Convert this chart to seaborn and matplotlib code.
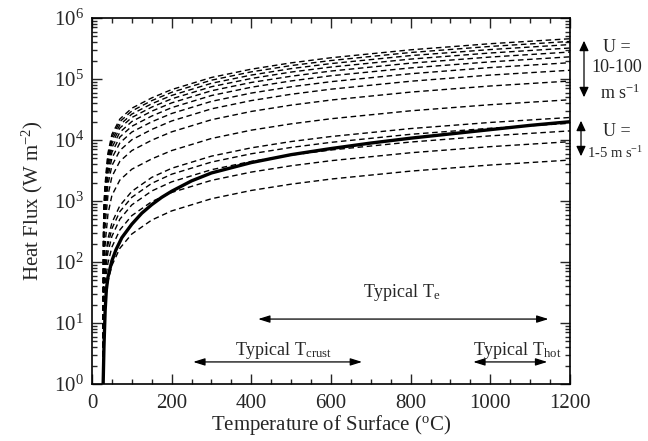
import numpy as np
import pandas as pd
import matplotlib
matplotlib.use("Agg")
import matplotlib.pyplot as plt
import seaborn as sns
from matplotlib.ticker import MultipleLocator, LogLocator, LogFormatterMathtext, NullFormatter

# ---------------- data ----------------
# temperature grid for the dashed (wind-speed) curves, deg C
T_dashed = [28, 29, 30, 32, 35, 40, 50, 70, 100, 150, 200, 300, 400, 500, 600, 800, 1000, 1200]

# heat flux (W m^-2) for each wind speed U (m/s)
flux_U1   = [1, 4, 8, 16, 28, 48, 88, 168, 288, 488, 688, 1090, 1490, 1890, 2290, 3090, 3890, 4690]
flux_U2   = [1, 8, 16, 32, 56, 96, 176, 336, 576, 976, 1380, 2180, 2980, 3780, 4580, 6180, 7780, 9380]
flux_U3   = [1, 12, 24, 48, 84, 144, 264, 504, 864, 1460, 2060, 3260, 4460, 5660, 6860, 9260, 11700, 14100]
flux_U4   = [1, 16, 32, 64, 112, 192, 352, 672, 1150, 1950, 2750, 4350, 5950, 7550, 9150, 12400, 15600, 18800]
flux_U5   = [1, 20, 40, 80, 140, 240, 440, 840, 1440, 2440, 3440, 5440, 7440, 9440, 11400, 15400, 19400, 23400]
flux_U10  = [1, 39, 78, 156, 273, 608, 1240, 2210, 3320, 4900, 6710, 10600, 14500, 18400, 22300, 30100, 37900, 45700]
flux_U20  = [1, 79, 158, 316, 553, 1230, 2520, 4480, 6710, 9930, 13600, 21500, 29400, 37300, 45200, 61000, 76800, 92600]
flux_U30  = [1, 119, 238, 476, 833, 1860, 3800, 6750, 10100, 14900, 20500, 32400, 44300, 56200, 68100, 91900, 116000, 139000]
flux_U40  = [1, 158, 316, 632, 1110, 2470, 5050, 8960, 13500, 19900, 27200, 43000, 58800, 74600, 90400, 122000, 154000, 185000]
flux_U50  = [1, 197, 394, 788, 1380, 3070, 6280, 11200, 16800, 24700, 33900, 53600, 73300, 93000, 113000, 152000, 191000, 231000]
flux_U60  = [1, 236, 472, 944, 1650, 3680, 7530, 13400, 20100, 29700, 40600, 64200, 87800, 111000, 135000, 182000, 229000, 277000]
flux_U70  = [1, 275, 550, 1100, 1930, 4290, 8770, 15700, 23400, 34600, 47300, 74800, 102000, 130000, 157000, 212000, 267000, 322000]
flux_U80  = [1, 313, 626, 1250, 2190, 4890, 9990, 17700, 26600, 39300, 53800, 85100, 116000, 148000, 179000, 242000, 304000, 367000]
flux_U90  = [1, 352, 704, 1410, 2460, 5490, 11200, 20000, 29900, 44200, 60500, 95700, 131000, 166000, 201000, 272000, 342000, 413000]
flux_U100 = [1, 390, 780, 1560, 2730, 6080, 12400, 22100, 33200, 49000, 67100, 106000, 145000, 184000, 223000, 301000, 379000, 457000]

dashed_series = {
    "1": flux_U1, "2": flux_U2, "3": flux_U3, "4": flux_U4, "5": flux_U5,
    "10": flux_U10, "20": flux_U20, "30": flux_U30, "40": flux_U40, "50": flux_U50,
    "60": flux_U60, "70": flux_U70, "80": flux_U80, "90": flux_U90, "100": flux_U100,
}

# thick solid curve
T_solid = [28, 30, 33, 36, 40, 50, 60, 75, 100, 125, 150, 175, 200, 250, 300, 400, 500,
           600, 700, 800, 900, 1000, 1100, 1200]
flux_solid = [1, 4, 16, 35, 56, 105, 158, 251, 417, 631, 871, 1148, 1445, 2138, 2884, 4266, 5754,
              7244, 8913, 10715, 12590, 14790, 17380, 19950]

x_ticks = [0, 200, 400, 600, 800, 1000, 1200]

# ---------------- style ----------------
sns.set_style("ticks")
plt.rcParams["font.family"] = ["Liberation Serif", "DejaVu Serif"]
plt.rcParams["mathtext.fontset"] = "custom"
plt.rcParams["mathtext.rm"] = "Liberation Serif"
plt.rcParams["mathtext.it"] = "Liberation Serif:italic"
plt.rcParams["mathtext.bf"] = "Liberation Serif:bold"

fig = plt.figure(figsize=(6.48, 4.41), dpi=100)
ax = fig.add_axes([92 / 648, 1 - 384 / 441, (570 - 92) / 648, (384 - 18) / 441])

rows = []
for u, vals in dashed_series.items():
    for t, v in zip(T_dashed, vals):
        rows.append({"T": t, "flux": v, "U": u})
df = pd.DataFrame(rows)

for u in dashed_series:
    sub = df[df["U"] == u]
    sns.lineplot(data=sub, x="T", y="flux", ax=ax, color="black", lw=1.0,
                 estimator=None, sort=True, linestyle=(0, (4, 2.6)))

sns.lineplot(x=T_solid, y=flux_solid, ax=ax, color="black", lw=2.4, estimator=None)

ax.set_yscale("log")
ax.set_xlim(0, 1200)
ax.set_ylim(1, 1e6)
ax.set_xticks(x_ticks)
ax.xaxis.set_minor_locator(MultipleLocator(50))
ax.yaxis.set_major_locator(LogLocator(base=10, numticks=10))
ax.yaxis.set_minor_locator(LogLocator(base=10, subs=np.arange(2, 10), numticks=20))
ax.yaxis.set_major_formatter(LogFormatterMathtext())
ax.yaxis.set_minor_formatter(NullFormatter())
ax.tick_params(which="both", direction="in", top=True, right=True, labelsize=15, width=1.0)
ax.tick_params(which="major", length=7)
ax.tick_params(which="minor", length=3.5)
ax.tick_params(axis="x", which="major", pad=7)
ax.tick_params(axis="y", which="major", pad=6)
for s in ax.spines.values():
    s.set_linewidth(1.2)
    s.set_color("black")

ax.set_xlabel(r"Temperature of Surface ($^{\rm o}$C)", fontsize=15, labelpad=0)
ax.set_ylabel(r"Heat Flux (W m$^{-2}$)", fontsize=15, labelpad=6)

# ---------------- annotations ----------------
arrow_kw = dict(arrowstyle="<|-|>,head_length=0.7,head_width=0.22", color="black", lw=0.9,
                shrinkA=0, shrinkB=0)
ax.annotate("", xy=(417, 11.6), xytext=(1146, 11.6), arrowprops=arrow_kw)
ax.text(779, 32, r"Typical T$_{\rm e}$", fontsize=13, ha="center", va="center")
ax.annotate("", xy=(254, 2.3), xytext=(678, 2.3), arrowprops=arrow_kw)
ax.text(480, 3.6, r"Typical T$_{\rm crust}$", fontsize=13, ha="center", va="center")
ax.annotate("", xy=(957, 2.3), xytext=(1143, 2.3), arrowprops=arrow_kw)
ax.text(1068, 3.6, r"Typical T$_{\rm hot}$", fontsize=13, ha="center", va="center")

# right-side wind speed labels (figure pixel coordinates)
def fx(px):
    return px / 648

def fy(py):
    return 1 - py / 441

fig.patches.append(matplotlib.patches.FancyArrowPatch(
    (fx(584), fy(38)), (fx(584), fy(100)), transform=fig.transFigure,
    arrowstyle="<|-|>,head_length=6,head_width=2.8", color="black", lw=0.9))
fig.patches.append(matplotlib.patches.FancyArrowPatch(
    (fx(581), fy(118)), (fx(581), fy(159)), transform=fig.transFigure,
    arrowstyle="<|-|>,head_length=6,head_width=2.8", color="black", lw=0.9))
fig.text(fx(617), fy(47), "U =", fontsize=13, ha="center", va="center")
fig.text(fx(617), fy(68), "10-100", fontsize=13, ha="center", va="center")
fig.text(fx(620), fy(93), r"m s$^{-1}$", fontsize=13, ha="center", va="center")
fig.text(fx(617), fy(131), "U =", fontsize=13, ha="center", va="center")
fig.text(fx(643), fy(153), r"1-5 m s$^{-1}$", fontsize=10.5, ha="right", va="center")

fig.savefig("out.png", dpi=100)
